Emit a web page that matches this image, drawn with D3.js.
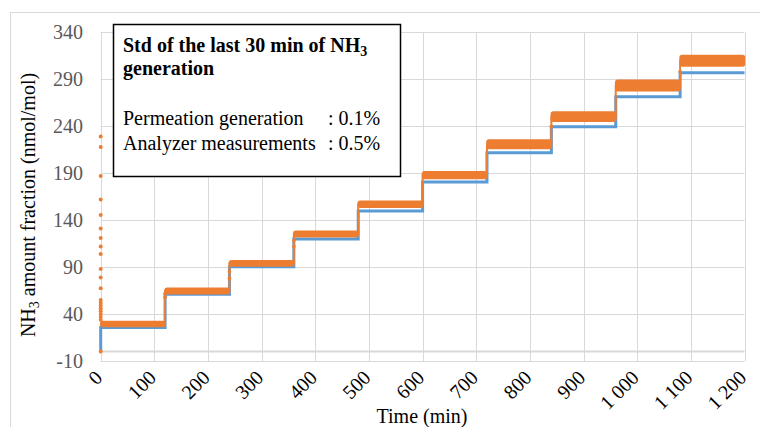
<!DOCTYPE html>
<html>
<head>
<meta charset="utf-8">
<script src="https://cdn.jsdelivr.net/npm/d3@7"></script>
<style>
  body { margin: 0; background: #fff; }
  text { font-family: "Liberation Serif", "Times New Roman", serif; }
</style>
</head>
<body>
<svg id="chart" width="760" height="427"></svg>
<script>
// step boundaries (min)
const stepStart = [0, 120, 240, 360, 480, 600, 720, 840, 960, 1080];
const stepEnd = [120, 240, 360, 480, 600, 720, 840, 960, 1080, 1200];
// permeation generation (blue)
const genLevel = [25.8, 61, 90.4, 120, 149.7, 180.6, 211.8, 239.5, 271.5, 296.8];
// analyzer measurement (orange): centre and half-width of the noisy band
const measLevel = [29.4, 64.5, 94, 125.2, 156.9, 188, 220.8, 250.2, 283.4, 309.8];
const measSpread = [2.6, 3, 2.8, 3, 3.2, 3.6, 4.4, 5, 5.6, 5.6];
// scattered analyzer points during start-up (t = 0)
const startupValues = [229, 218, 187, 162, 145.5, 131, 121, 112, 104, 88, 79, 67.4, 55, 52, 49, 46, 43, 40, 37, 34, 0];
// isolated points while switching level
const switchTimes = [120, 120, 240, 240, 360, 360, 840, 1080];
const switchValues = [58, 62, 78, 85, 112, 118, 240, 298];

const yTicks = [-10, 40, 90, 140, 190, 240, 290, 340];
const xTicks = [0, 100, 200, 300, 400, 500, 600, 700, 800, 900, 1000, 1100, 1200];
const xTickLabels = ['0', '100', '200', '300', '400', '500', '600', '700', '800', '900', '1 000', '1 100', '1 200'];

const blue = '#5B9BD5';
const orange = '#ED7D31';
const grid = '#d9d9d9';

var svg = d3.select('#chart');

// outer chart frame
svg.append('rect')
  .attr('x', 10.5).attr('y', 12.5)
  .attr('width', 760).attr('height', 430)
  .attr('fill', 'none').attr('stroke', grid).attr('stroke-width', 1);

var x = d3.scaleLinear().domain([0, 1200]).range([100.7, 744.5]);
var y = d3.scaleLinear().domain([-10, 340]).range([361, 32.3]);

// gridlines
svg.append('g').selectAll('line').data(yTicks).enter().append('line')
  .attr('x1', x(0)).attr('x2', x(1200))
  .attr('y1', d => Math.round(y(d)) + 0.5).attr('y2', d => Math.round(y(d)) + 0.5)
  .attr('stroke', grid).attr('stroke-width', 1);
svg.append('g').selectAll('line').data(xTicks).enter().append('line')
  .attr('x1', d => Math.round(x(d)) + 0.5).attr('x2', d => Math.round(x(d)) + 0.5)
  .attr('y1', y(340)).attr('y2', y(-10))
  .attr('stroke', grid).attr('stroke-width', 1);
// horizontal axis at zero
svg.append('line')
  .attr('x1', x(0)).attr('x2', x(1200))
  .attr('y1', y(0)).attr('y2', y(0))
  .attr('stroke', grid).attr('stroke-width', 2);

// y tick labels
svg.append('g').selectAll('text').data(yTicks).enter().append('text')
  .attr('x', 83).attr('y', d => y(d)).attr('dy', '0.35em')
  .attr('text-anchor', 'end').attr('font-size', 20).attr('fill', '#595959')
  .text(d => d);

// x tick labels, rotated
svg.append('g').selectAll('text').data(xTicks).enter().append('text')
  .attr('text-anchor', 'end').attr('font-size', 20).attr('fill', '#000')
  .attr('transform', d => 'translate(' + (x(d) - 2) + ',374) rotate(-45)')
  .attr('dy', '0.35em')
  .text((d, i) => xTickLabels[i]);

// axis titles
svg.append('text')
  .attr('x', 422).attr('y', 423).attr('text-anchor', 'middle')
  .attr('font-size', 20).text('Time (min)');

var yt = svg.append('text')
  .attr('transform', 'translate(35,205) rotate(-90)')
  .attr('text-anchor', 'middle').attr('font-size', 20);
yt.append('tspan').text('NH');
yt.append('tspan').attr('font-size', 14).attr('dy', 4).text('3');
yt.append('tspan').attr('dy', -4).text(' amount fraction (nmol/mol)');

// generation step line
var genPts = [{t: 0, v: 0}];
stepStart.forEach((t, i) => genPts.push({t: t, v: genLevel[i]}));
genPts.push({t: 1200, v: genLevel[genLevel.length - 1]});
var line = d3.line().x(d => x(d.t)).y(d => y(d.v)).curve(d3.curveStepAfter);
svg.append('path').datum(genPts)
  .attr('d', line)
  .attr('fill', 'none').attr('stroke', blue).attr('stroke-width', 3);

// measurement: thin connecting line plus noisy band per step
var measPts = [];
stepStart.forEach((t, i) => measPts.push({t: t, v: measLevel[i]}));
measPts.push({t: 1200, v: measLevel[measLevel.length - 1]});
svg.append('path').datum(measPts)
  .attr('d', line)
  .attr('fill', 'none').attr('stroke', orange).attr('stroke-width', 2);

var band = svg.append('g');
stepStart.forEach(function(t, i) {
  band.append('rect')
    .attr('x', x(t))
    .attr('y', y(measLevel[i] + measSpread[i]))
    .attr('width', x(stepEnd[i]) - x(t))
    .attr('height', y(measLevel[i] - measSpread[i]) - y(measLevel[i] + measSpread[i]))
    .attr('rx', 2)
    .attr('fill', orange).attr('stroke', orange).attr('stroke-width', 1.5)
    .attr('stroke-linejoin', 'round');
});

svg.append('g').selectAll('circle').data(startupValues).enter().append('circle')
  .attr('cx', x(0)).attr('cy', d => y(d)).attr('r', 2).attr('fill', orange);
svg.append('g').selectAll('circle').data(switchValues).enter().append('circle')
  .attr('cx', (d, i) => x(switchTimes[i])).attr('cy', d => y(d)).attr('r', 1.8).attr('fill', orange);

// std text box
svg.append('rect')
  .attr('x', 113.5).attr('y', 24.5).attr('width', 287).attr('height', 152)
  .attr('fill', '#fff').attr('stroke', '#000').attr('stroke-width', 1.5);

var t1 = svg.append('text').attr('x', 123).attr('y', 52)
  .attr('font-size', 20).attr('font-weight', 'bold');
t1.append('tspan').text('Std of the last 30 min of NH');
t1.append('tspan').attr('font-size', 14).attr('dy', 4).text('3');
svg.append('text').attr('x', 123).attr('y', 75)
  .attr('font-size', 20).attr('font-weight', 'bold').text('generation');

svg.append('text').attr('x', 123).attr('y', 125).attr('font-size', 20).text('Permeation generation');
svg.append('text').attr('x', 328).attr('y', 125).attr('font-size', 20).text(': 0.1%');
svg.append('text').attr('x', 123).attr('y', 150).attr('font-size', 20).text('Analyzer measurements');
svg.append('text').attr('x', 328).attr('y', 150).attr('font-size', 20).text(': 0.5%');
</script>
</body>
</html>
